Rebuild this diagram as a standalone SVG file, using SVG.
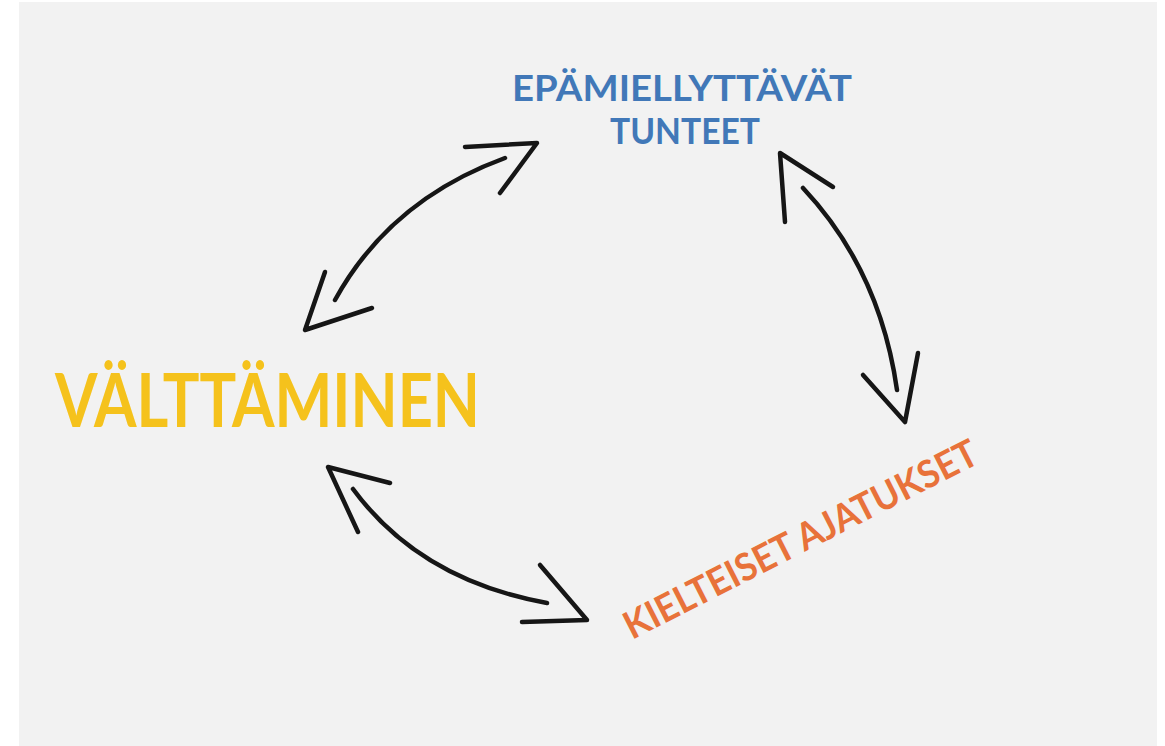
<svg xmlns="http://www.w3.org/2000/svg" width="1165" height="746" viewBox="0 0 1165 746">
<style>
.lbl{font-family:Lato,"DejaVu Sans",sans-serif;font-weight:bold}
.arr{fill:none;stroke:#161616;stroke-width:4.5;stroke-linecap:round;stroke-linejoin:round}
</style>
<rect x="0" y="0" width="1165" height="746" fill="#ffffff"/>
<rect x="19" y="2" width="1138" height="744" fill="#f2f2f2"/>
<g id="node-tunteet">
<text class="lbl" x="512" y="101" font-size="37" fill="#4178b8" textLength="340" lengthAdjust="spacingAndGlyphs">EPÄMIELLYTTÄVÄT</text>
<text class="lbl" x="610" y="144" font-size="37" fill="#4178b8" textLength="150" lengthAdjust="spacingAndGlyphs">TUNTEET</text>
</g>
<g id="node-valttaminen">
<text class="lbl" x="55" y="427" font-size="74" fill="#f5c21c" textLength="425" lengthAdjust="spacingAndGlyphs">VÄLTTÄMINEN</text>
</g>
<g id="node-ajatukset">
<text class="lbl" x="0" y="0" font-size="38" fill="#e8723a" textLength="392" lengthAdjust="spacingAndGlyphs" transform="translate(632,640) rotate(-27)">KIELTEISET AJATUKSET</text>
</g>
<g id="connectors">
<path class="arr" d="M335,300 Q390,200 505,158"/>
<path class="arr" d="M465,147 L537,143 L500,193"/>
<path class="arr" d="M325,272 L305,330 L372,308"/>
<path class="arr" d="M803,188 Q880,270 897,390"/>
<path class="arr" d="M785,222 L780,153 L833,187"/>
<path class="arr" d="M863,375 L905,422 L918,353"/>
<path class="arr" d="M353,489 Q420,580 547,603"/>
<path class="arr" d="M390,483 L328,467 L358,532"/>
<path class="arr" d="M522,622 L587,620 L540,565"/>
</g>
</svg>
